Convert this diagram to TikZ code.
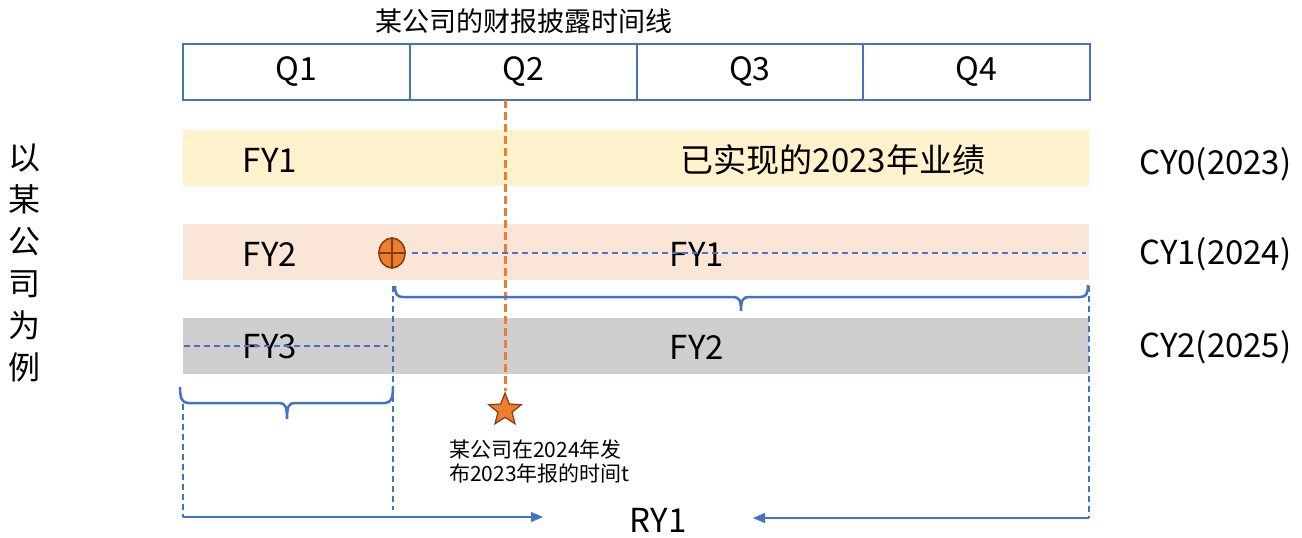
\documentclass[tikz,border=0pt]{standalone}
\usepackage{fontspec}
\setmainfont{Noto Sans CJK SC}
\usetikzlibrary{shapes.geometric,arrows.meta}
\definecolor{qblue}{HTML}{4472C4}
\definecolor{lblue}{HTML}{4472C4}
\definecolor{bandyellow}{HTML}{FFF2CC}
\definecolor{bandpeach}{HTML}{FBE5D6}
\definecolor{bandgray}{HTML}{D0CECE}
\definecolor{markorange}{HTML}{ED7D31}
\definecolor{markbrown}{HTML}{843C0C}
\begin{document}
\begin{tikzpicture}[x=1pt,y=-1pt,
  qcell/.style={draw=qblue,line width=1.5pt,minimum width=227pt,minimum height=56pt,inner sep=0pt,font=\fontsize{32}{36}\selectfont},
  band/.style={minimum width=906pt,minimum height=56pt,inner sep=0pt},
  lbl/.style={inner sep=0pt,font=\fontsize{33}{38}\selectfont},
  smalltxt/.style={inner sep=0pt,align=left,font=\fontsize{21}{24}\selectfont},
  bdash/.style={draw=lblue,line width=1.4pt,dash pattern=on 6pt off 4pt},
  odash/.style={draw=markorange,line width=3pt,dash pattern=on 8pt off 4pt},
  brc/.style={draw=qblue,line width=2.5pt},
  arr/.style={draw=lblue,line width=1.3pt,-{Triangle[length=12pt,width=10pt]}}]
\useasboundingbox (0,0) rectangle (1302,538);
% title
\node[inner sep=0pt,font=\fontsize{27}{30}\selectfont] (title) at (524,21) {某公司的财报披露时间线};
% quarters
\node[qcell] (q1) at (296.5,72) {Q1};
\node[qcell] (q2) at (523.5,72) {Q2};
\node[qcell] (q3) at (750,72) {Q3};
\node[qcell] (q4) at (976.5,72) {Q4};
% bands
\node[band,fill=bandyellow] (b0) at (636,158) {};
\node[band,fill=bandpeach] (b1) at (636,252) {};
\node[band,fill=bandgray] (b2) at (636,345.5) {};
% row labels
\node[lbl] (fy1a) at (270,160) {FY1};
\node[lbl] (real) at (833,160) {已实现的2023年业绩};
\node[lbl,anchor=west] (cy0) at (1139,164) {CY0(2023)};
\node[lbl] (fy2a) at (270,254) {FY2};
\node[lbl] (fy1b) at (697,254) {FY1};
\node[lbl,anchor=west] (cy1) at (1139,254) {CY1(2024)};
\node[lbl] (fy3) at (270,347) {FY3};
\node[lbl] (fy2b) at (697,347) {FY2};
\node[lbl,anchor=west] (cy2) at (1139,347) {CY2(2025)};
% side text
\node[inner sep=0pt,align=center,font=\fontsize{32}{42}\selectfont] (side) at (25,263) {以\\某\\公\\司\\为\\例};
% marker
\node[ellipse,draw=markbrown,fill=markorange,line width=1.5pt,minimum width=26pt,minimum height=30pt,inner sep=0pt] (mk) at (392,253) {};
\draw[markbrown,line width=1.5pt] (mk.north) -- (mk.south) (mk.west) -- (mk.east);
\coordinate (d1e) at (1086,253);
\draw[bdash] ([xshift=6pt]mk.east) -- (d1e);
\coordinate (d2s) at (184,346);
\coordinate (d2e) at (388,346);
\draw[bdash] (d2s) -- (d2e);
% orange timeline
\node[star,star points=5,star point ratio=2.3,minimum size=34pt,inner sep=0pt,fill=markorange,draw=markbrown,line width=1.2pt] (st) at (505,410) {};
\coordinate (t0) at (505,100);
\draw[odash] (t0) -- (st.north);
\node[smalltxt,anchor=north west] (tt) at (449,440) {某公司在2024年发\\布2023年报的时间t};
% braces
\draw[brc] (395,286) .. controls (395,294) and (397,297) .. (403,297) -- (733,297) .. controls (739,297) and (741,300) .. (741,311) .. controls (741,300) and (743,297) .. (749,297) -- (1080,297) .. controls (1086,297) and (1088,294) .. (1088,285);
\draw[brc] (180,387) .. controls (180,398) and (182,403) .. (188,403) -- (279,403) .. controls (285,403) and (287,406) .. (287,419) .. controls (287,406) and (289,403) .. (295,403) -- (385,403) .. controls (391,403) and (393,398) .. (393,387);
% vertical dashed guides
\coordinate (v1t) at (393,286); \coordinate (v1b) at (393,510);
\coordinate (v2t) at (183,404); \coordinate (v2b) at (183,517);
\coordinate (v3t) at (1089,286); \coordinate (v3b) at (1089,518);
\draw[bdash] (v1t) -- (v1b);
\draw[bdash] (v2t) -- (v2b);
\draw[bdash] (v3t) -- (v3b);
% RY1 arrows
\node[lbl] (ry) at (658,520) {RY1};
\coordinate (a1e) at (543,517);
\coordinate (a2e) at (753,518);
\draw[arr] (v2b) -- (a1e);
\draw[arr] (v3b) -- (a2e);
\end{tikzpicture}
\end{document}
